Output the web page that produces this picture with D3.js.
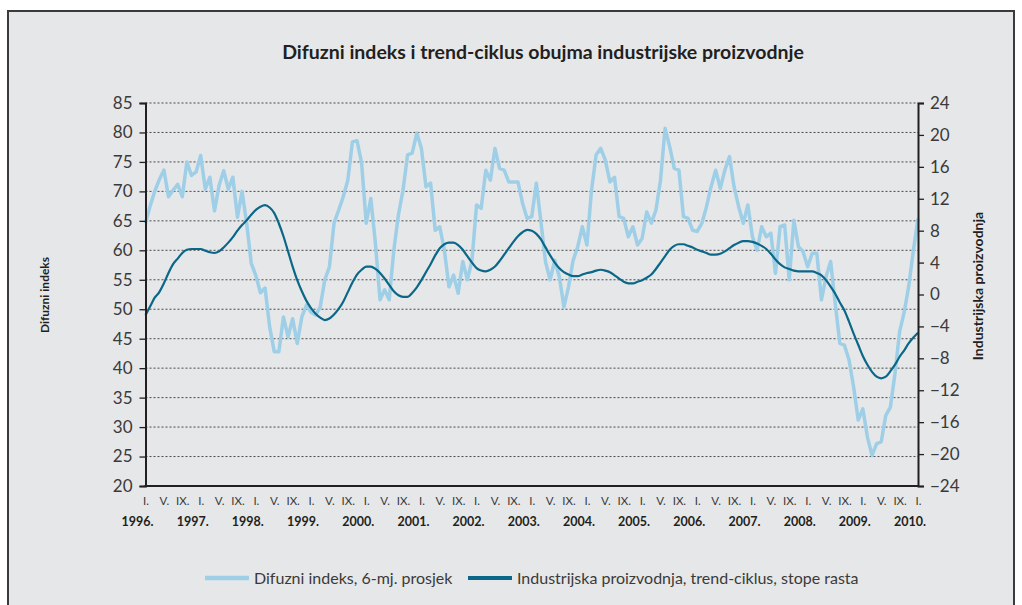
<!DOCTYPE html>
<html>
<head>
<meta charset="utf-8">
<script src="https://cdn.jsdelivr.net/npm/d3@7"></script>
<style>
  body { margin: 0; background: #fff; }
  text { font-family: Lato, "Open Sans", sans-serif; }
</style>
</head>
<body>
<script>
// monthly data, I.1996 .. I.2010
var difuzni = [
  64.6, 67.5, 70.0, 72.0, 73.6, 69.1, 70.2, 71.2, 69.1, 75.0, 72.7, 73.3,
  76.1, 70.4, 72.4, 66.7, 71.0, 73.5, 70.4, 72.4, 65.6, 70.0, 64.6, 57.8,
  55.7, 52.8, 53.6, 47.0, 42.8, 42.8, 48.7, 45.3, 48.4, 44.2, 48.7, 50.7,
  49.5, 49.0, 50.4, 55.0, 57.2, 64.6, 66.8, 69.1, 71.9, 78.4, 78.6, 74.8,
  64.6, 68.8, 61.2, 51.6, 53.3, 51.6, 60.0, 66.0, 70.2, 76.2, 76.5, 79.9,
  77.3, 70.8, 71.4, 63.4, 64.0, 60.0, 53.8, 55.8, 52.7, 58.1, 55.0, 58.3,
  67.7, 67.1, 73.6, 71.9, 77.3, 73.9, 73.6, 71.6, 71.6, 71.6, 68.0, 65.4,
  65.7, 71.4, 64.8, 58.0, 55.0, 58.3, 55.5, 50.4, 53.8, 58.3, 60.6, 64.0,
  60.9, 70.2, 76.2, 77.3, 75.3, 71.6, 72.4, 65.7, 65.4, 62.3, 64.0, 60.9,
  62.0, 66.5, 64.6, 66.8, 71.9, 80.7, 77.6, 73.9, 73.6, 65.7, 65.4, 63.4,
  63.2, 64.6, 67.4, 70.8, 73.6, 70.5, 73.6, 75.9, 70.8, 67.4, 64.6, 67.7,
  62.3, 60.0, 64.0, 62.3, 62.9, 56.1, 64.0, 64.3, 55.0, 65.1, 60.6, 59.8,
  57.2, 59.5, 59.5, 51.6, 55.5, 58.1, 51.0, 44.2, 43.9, 41.4, 36.8, 31.2,
  33.1, 28.3, 25.2, 27.2, 27.5, 32.0, 33.4, 39.1, 46.2, 49.5, 54.0, 60.0,
  65.4
];
var trend = [
  -2.6, -1.5, -0.4, 0.3, 1.4, 2.7, 3.8, 4.5, 5.2, 5.6, 5.7, 5.7,
  5.7, 5.5, 5.3, 5.2, 5.4, 5.9, 6.5, 7.2, 8.0, 8.7, 9.3, 10.0,
  10.6, 11.0, 11.2, 10.9, 10.2, 8.9, 7.3, 5.4, 3.5, 1.8, 0.4, -0.8,
  -1.7, -2.4, -2.9, -3.2, -3.0, -2.5, -1.8, -0.9, 0.3, 1.5, 2.5, 3.1,
  3.5, 3.5, 3.2, 2.7, 2.0, 1.2, 0.4, -0.1, -0.3, -0.3, 0.2, 0.9,
  1.8, 2.8, 3.8, 4.9, 5.8, 6.3, 6.5, 6.5, 6.2, 5.6, 4.8, 4.0,
  3.3, 3.0, 2.9, 3.1, 3.5, 4.2, 5.0, 5.8, 6.6, 7.3, 7.8, 8.1,
  8.0, 7.6, 6.9, 5.9, 4.9, 4.0, 3.3, 2.8, 2.5, 2.3, 2.3, 2.5,
  2.7, 2.8, 3.0, 3.1, 3.0, 2.8, 2.4, 2.0, 1.6, 1.4, 1.4, 1.6,
  1.8, 2.1, 2.5, 3.2, 4.0, 4.8, 5.6, 6.1, 6.3, 6.3, 6.1, 5.9,
  5.6, 5.4, 5.2, 5.0, 5.0, 5.1, 5.4, 5.8, 6.2, 6.5, 6.7, 6.7,
  6.6, 6.4, 6.1, 5.7, 5.1, 4.4, 3.8, 3.4, 3.2, 3.0, 2.9, 2.9,
  2.9, 2.9, 2.7, 2.4, 1.8, 1.0, 0.1, -1.0, -2.0, -3.4, -4.9, -6.3,
  -7.7, -8.8, -9.7, -10.3, -10.5, -10.3, -9.6, -8.8, -7.8, -7.0, -6.1, -5.4,
  -4.8
];
var monthNames = ["I.", "V.", "IX."];
var years = ["1996.", "1997.", "1998.", "1999.", "2000.", "2001.", "2002.",
             "2003.", "2004.", "2005.", "2006.", "2007.", "2008.", "2009.", "2010."];
var leftTicks = [20, 25, 30, 35, 40, 45, 50, 55, 60, 65, 70, 75, 80, 85];
var rightTicks = [-24, -20, -16, -12, -8, -4, 0, 4, 8, 12, 16, 20, 24];

var W = 1022, H = 605;
var pL = 145.5, pR = 918, pT = 103, pB = 486;
var ink = "#231f20", light = "#9ecfe7", dark = "#0b6788";

var svg = d3.select("body").append("svg")
    .attr("width", W)
    .attr("height", H);

svg.append("rect")
    .attr("x", 8).attr("y", 11)
    .attr("width", 1006).attr("height", 620)
    .attr("fill", "#e6e7e9")
    .attr("stroke", "#3b3b3b")
    .attr("stroke-width", 2);

var x = d3.scaleLinear().domain([0, 168]).range([pL, pR]);
var yL = d3.scaleLinear().domain([20, 85]).range([pB, pT]);
var yR = d3.scaleLinear().domain([-24, 24]).range([pB, pT]);

// title
svg.append("text")
    .attr("x", 543).attr("y", 59)
    .attr("text-anchor", "middle")
    .style("font-weight", "bold")
    .style("font-size", "19.5px")
    .attr("fill", ink)
    .text("Difuzni indeks i trend-ciklus obujma industrijske proizvodnje");

// gridlines
svg.append("g").selectAll("line")
    .data(leftTicks.filter(function(d){ return d > 20; }))
    .enter().append("line")
    .attr("x1", pL).attr("x2", pR)
    .attr("y1", function(d){ return yL(d); })
    .attr("y2", function(d){ return yL(d); })
    .attr("stroke", "#4a4a4a")
    .attr("stroke-width", 1)
    .attr("stroke-dasharray", "2,2");

// lines
var lineL = d3.line()
    .x(function(d, i){ return x(i); })
    .y(function(d){ return yL(d); });
var lineR = d3.line()
    .x(function(d, i){ return x(i); })
    .y(function(d){ return yR(d); })
    .curve(d3.curveMonotoneX);

svg.append("path")
    .datum(difuzni)
    .attr("d", lineL)
    .attr("fill", "none")
    .attr("stroke", light)
    .attr("stroke-width", 3.5)
    .attr("stroke-linejoin", "round");

svg.append("path")
    .datum(trend)
    .attr("d", lineR)
    .attr("fill", "none")
    .attr("stroke", dark)
    .attr("stroke-width", 2.2);

// axes
var gL = svg.append("g")
    .attr("transform", "translate(" + pL + ",0)")
    .call(d3.axisLeft(yL).tickValues(leftTicks).tickSize(6).tickPadding(7));
var gR = svg.append("g")
    .attr("transform", "translate(" + pR + ",0)")
    .call(d3.axisRight(yR).tickValues(rightTicks).tickSize(6).tickPadding(6));
[gL, gR].forEach(function(g){
    g.select(".domain").attr("stroke", ink).attr("stroke-width", 2);
    g.selectAll(".tick line").attr("stroke", ink).attr("stroke-width", 1.3);
    g.selectAll(".tick text")
        .style("font-size", "17px")
        .style("font-family", "Lato, sans-serif")
        .attr("fill", "#3a3a3a");
});

svg.append("line")
    .attr("x1", pL - 1).attr("x2", pR + 1)
    .attr("y1", pB).attr("y2", pB)
    .attr("stroke", ink)
    .attr("stroke-width", 2);

var monthTicks = d3.range(0, 169, 4);
var gB = svg.append("g")
    .attr("transform", "translate(0," + pB + ")")
    .call(d3.axisBottom(x).tickValues(monthTicks).tickSize(0).tickPadding(11)
        .tickFormat(function(d){ return monthNames[(d / 4) % 3]; }));
gB.select(".domain").remove();
gB.selectAll(".tick text")
    .style("font-size", "11.5px")
    .style("font-family", "Lato, sans-serif")
    .attr("fill", "#3a3a3a");

svg.append("g").selectAll("text")
    .data(years)
    .enter().append("text")
    .attr("x", function(d, i){ return x(i * 12) - 8; })
    .attr("y", 526)
    .attr("text-anchor", "middle")
    .style("font-size", "12.5px")
    .style("font-weight", "bold")
    .attr("fill", ink)
    .text(function(d){ return d; });

// axis titles
svg.append("text")
    .attr("transform", "translate(49,295) rotate(-90)")
    .attr("text-anchor", "middle")
    .style("font-size", "12px")
    .style("font-weight", "bold")
    .attr("fill", ink)
    .text("Difuzni indeks");
svg.append("text")
    .attr("transform", "translate(983,286) rotate(-90)")
    .attr("text-anchor", "middle")
    .style("font-size", "14px")
    .style("font-weight", "bold")
    .attr("fill", ink)
    .text("Industrijska proizvodnja");

// legend
var legend = [
    {name: "Difuzni indeks, 6-mj. prosjek", color: light, x: 205, w: 4.5},
    {name: "Industrijska proizvodnja, trend-ciklus, stope rasta", color: dark, x: 468, w: 4}
];
var lg = svg.append("g").selectAll("g")
    .data(legend)
    .enter().append("g");
lg.append("line")
    .attr("x1", function(d){ return d.x; })
    .attr("x2", function(d){ return d.x + 44; })
    .attr("y1", 578).attr("y2", 578)
    .attr("stroke", function(d){ return d.color; })
    .attr("stroke-width", function(d){ return d.w; });
lg.append("text")
    .attr("x", function(d){ return d.x + 49; })
    .attr("y", 583.5)
    .style("font-size", "16px")
    .attr("fill", "#3a3a3a")
    .text(function(d){ return d.name; });
</script>
</body>
</html>
